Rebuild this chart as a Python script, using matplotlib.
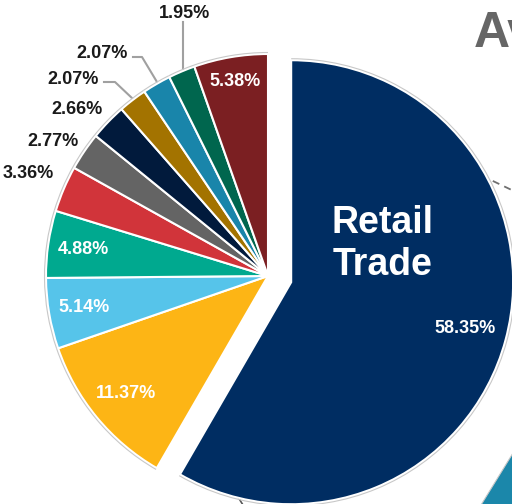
import numpy as np
import matplotlib.pyplot as plt
from matplotlib.patches import Arc, Polygon

plt.rcParams['font.family'] = ['Liberation Sans', 'DejaVu Sans']

# share of each industry (%), clockwise from 12 o'clock
shares = [58.35, 11.37, 5.14, 4.88, 3.36, 2.77, 2.66, 2.07, 2.07, 1.95, 5.38]
pct_labels = [f"{v:.2f}%" for v in shares]
colors = ['#002D62', '#FDB515', '#56C4EA', '#00A98F', '#D1343A', '#646464',
          '#011A3C', '#A37300', '#1985AA', '#00664E', '#7B1F22']
main_label = "Retail\nTrade"

W, H = 512, 504


def px(x, y):
    # pixel position (from top-left) -> data coords
    return x, H - y


fig = plt.figure(figsize=(W / 100, H / 100), dpi=100)
ax = fig.add_axes([0, 0, 1, 1])

# pie explode is in data units here (1 unit = 1 px)
explode = [24] + [0] * (len(shares) - 1)
wedges, _ = ax.pie(shares, colors=colors, startangle=90, counterclock=False,
                   explode=explode, center=px(268, 276), radius=222, frame=True,
                   wedgeprops=dict(edgecolor='white', linewidth=1.5))

# faint grey rim on the outside of each wedge
for w in wedges:
    ax.add_patch(Arc(w.center, 2 * w.r + 3, 2 * w.r + 3, theta1=w.theta1,
                     theta2=w.theta2, color='#c8c8c8', lw=0.8))

# labels inside the larger wedges
inside = {0: 0.81, 1: 0.83, 2: 0.84, 3: 0.84, 10: 0.89}
for i, dist in inside.items():
    w = wedges[i]
    ang = np.deg2rad((w.theta1 + w.theta2) / 2)
    x = w.center[0] + dist * w.r * np.cos(ang)
    y = w.center[1] + dist * w.r * np.sin(ang)
    ax.text(x, y, pct_labels[i], color='white', fontsize=13,
            fontweight='bold', ha='center', va='center')

ax.text(*px(383, 244), main_label, color='white', fontsize=27,
        fontweight='bold', ha='center', va='center', linespacing=1.2)

# labels outside the thin wedges
outside = {4: (28, 173), 5: (53, 141), 6: (77, 110), 7: (73, 80),
           8: (102, 53), 9: (185, 14)}
for i, (x, y) in outside.items():
    ax.text(*px(x, y), pct_labels[i], color='#1a1a1a', fontsize=13,
            fontweight='bold', ha='center', va='center')

# leader lines
leaders = [[(104, 82), (115, 82), (133, 99)],
           [(133, 57), (142, 57), (157, 82)],
           [(183, 22), (183, 70)]]
for pts in leaders:
    xs, ys = zip(*[px(x, y) for x, y in pts])
    ax.plot(xs, ys, color='#a0a0a0', lw=1.5, zorder=0.5)

# bits of the neighbouring panel
ax.text(*px(474, 34), "Av", color='#666666', fontsize=36,
        fontweight='bold', ha='left', va='center')
xs, ys = zip(*[px(470, 170), px(520, 194)])
ax.plot(xs, ys, color='#707070', lw=1.3, ls=(0, (4, 3)), zorder=0)
ax.add_patch(Polygon([px(481, 505), px(513, 453), px(513, 505)],
                     closed=True, facecolor='#1B87AA', edgecolor='#c8c8c8',
                     lw=0.8))
xs, ys = zip(*[px(238, 497), px(243, 505)])
ax.plot(xs, ys, color='#555555', lw=1.2, zorder=0)

ax.set_xlim(0, W)
ax.set_ylim(0, H)
ax.set_aspect('equal')
ax.axis('off')

fig.savefig('out.png', dpi=100)
